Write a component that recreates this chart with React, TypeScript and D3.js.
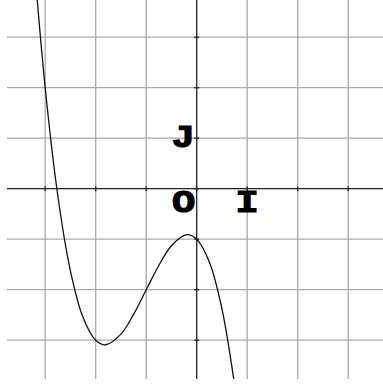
import * as d3 from "d3";
import React from "react";

const width = 383;
const height = 385;

// grid / axis range (units)
const gridTicks = [-3, -2, -1, 1, 2, 3];
const axisTicks = [-3, -2, -1, 0, 1, 2, 3];

// points
const curveX = [-3.2, -3, -2.75, -2.5, -2.25, -2, -1.8, -1.5, -1.25, -1, -0.75, -0.5, -0.2, 0, 0.25, 0.5, 0.8];
const curveY = [4.25, 2, -0.14, -1.63, -2.55, -3, -3.09, -2.88, -2.49, -2, -1.52, -1.13, -0.91, -1, -1.45, -2.38, -4.23];

const labels = [
  { text: "J", x: -0.27, y: 0.826 },
  { text: "O", x: -0.26, y: -0.46 },
  { text: "I", x: 1.0, y: -0.46 },
];

const xScale = d3.scaleLinear().domain([0, 1]).range([196.7, 247.2]);
const yScale = d3.scaleLinear().domain([0, 1]).range([188.7, 138.2]);

const left = 7;
const bottom = 379;

const App = () => {
  const points: [number, number][] = curveX.map((x, i) => [x, curveY[i]]);
  const line = d3
    .line<[number, number]>()
    .x((d) => xScale(d[0]))
    .y((d) => yScale(d[1]))
    .curve(d3.curveCatmullRom.alpha(0.5));

  return (
    <svg
      width={width}
      height={height}
      style={{ position: "fixed", top: 0, left: 0, background: "#fff" }}
    >
      <defs>
        <clipPath id="plot">
          <rect x={0} y={0} width={width} height={bottom} />
        </clipPath>
      </defs>
      {/* grid */}
      <g stroke="#aaa" strokeWidth={1.3}>
        {gridTicks.map((t) => (
          <line key={"v" + t} x1={xScale(t)} x2={xScale(t)} y1={0} y2={bottom} />
        ))}
        {gridTicks.map((t) => (
          <line key={"h" + t} x1={left} x2={width} y1={yScale(t)} y2={yScale(t)} />
        ))}
      </g>
      {/* axes */}
      <g stroke="#222" strokeWidth={1.3}>
        <line x1={left} x2={width} y1={yScale(0)} y2={yScale(0)} />
        <line x1={xScale(0)} x2={xScale(0)} y1={0} y2={bottom} />
        {axisTicks.map((t) => (
          <line key={"tx" + t} x1={xScale(t)} x2={xScale(t)} y1={yScale(0) - 2.5} y2={yScale(0) + 2.5} />
        ))}
        {axisTicks.map((t) => (
          <line key={"ty" + t} x1={xScale(0) - 2.5} x2={xScale(0) + 2.5} y1={yScale(t)} y2={yScale(t)} />
        ))}
      </g>
      {/* curve */}
      <path
        d={line(points) || ""}
        fill="none"
        stroke="#111"
        strokeWidth={1.3}
        clipPath="url(#plot)"
      />
      {/* labels */}
      {labels.map((l) => (
        <text
          key={l.text}
          transform={`translate(${xScale(l.x)},${yScale(l.y)}) scale(1.25,1)`}
          textAnchor="middle"
          fontFamily="'Liberation Mono', 'DejaVu Sans Mono', monospace"
          fontWeight="bold"
          fontSize={31}
          fill="#000"
          stroke="#000"
          strokeWidth={1.2}
        >
          {l.text}
        </text>
      ))}
    </svg>
  );
};

export default App;
